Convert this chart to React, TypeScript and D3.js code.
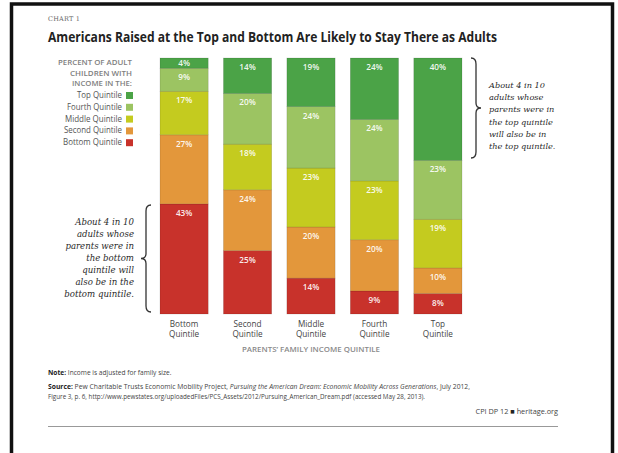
import React from "react";
import * as d3 from "d3";

const categories = ["Bottom Quintile", "Second Quintile", "Middle Quintile", "Fourth Quintile", "Top Quintile"];
const seriesNames = ["Bottom Quintile", "Second Quintile", "Middle Quintile", "Fourth Quintile", "Top Quintile"];
const bottomValues = [43, 25, 14, 9, 8];
const secondValues = [27, 24, 20, 20, 10];
const middleValues = [17, 18, 23, 23, 19];
const fourthValues = [9, 20, 24, 24, 23];
const topValues = [4, 14, 19, 24, 40];
const colors = ["#c8322b", "#e3973b", "#c4cb1f", "#9cc462", "#4ba347"];
const legendOrder = ["Top Quintile", "Fourth Quintile", "Middle Quintile", "Second Quintile", "Bottom Quintile"];

const W = 618;
const H = 453;

export default function App() {
  const series = [bottomValues, secondValues, middleValues, fourthValues, topValues];
  const x = d3.scaleBand<string>().domain(categories).range([160, 462]).paddingInner(0.24).paddingOuter(0);
  const y = d3.scaleLinear().domain([0, 100]).range([314, 58]);
  const color = d3.scaleOrdinal<string, string>().domain(seriesNames).range(colors);

  const table = categories.map((c, i) => {
    const row: any = { cat: c };
    seriesNames.forEach((s, j) => (row[s] = series[j][i]));
    return row;
  });
  const totals = categories.map((_, i) => d3.sum(series, (s) => s[i]));
  const stacked = d3.stack<any>().keys(seriesNames)(table);

  const serif = "'DejaVu Serif', 'Liberation Serif', serif";
  const sans = "'Open Sans', Lato, sans-serif";

  const rightLines = ["About 4 in 10", "adults whose", "parents were in", "the top quintile", "will also be in", "the top quintile."];
  const leftLines = ["About 4 in 10", "adults whose", "parents were in", "the bottom", "quintile will", "also be in the", "bottom quintile."];
  const headerLines = ["PERCENT OF ADULT", "CHILDREN WITH", "INCOME IN THE:"];
  const headerWidths = [74, 62, 60];
  const legendWidths = [45, 55, 57, 58, 59];

  const brace = (x0: number, y0: number, y1: number, dir: number) => {
    const d = 5 * dir;
    const tip = 5 * dir;
    const ym = (y0 + y1) / 2;
    return `M${x0},${y0} Q${x0 + d},${y0} ${x0 + d},${y0 + 6} L${x0 + d},${ym - 5} Q${x0 + d},${ym} ${x0 + d + tip},${ym} Q${x0 + d},${ym} ${x0 + d},${ym + 5} L${x0 + d},${y1 - 6} Q${x0 + d},${y1} ${x0},${y1}`;
  };

  return (
    <svg width={W} height={H} style={{ position: "absolute", left: 0, top: 0, background: "#fff" }}>
      <rect x={0} y={0} width={W} height={H} fill="#fff" />
      <path d={`M11.5,${H} L11.5,4 L612.5,4 L612.5,${H}`} fill="none" stroke="#111" strokeWidth={3.5} />
      <text x={48} y={21} fontFamily={serif} fontSize={6.5} fill="#666" letterSpacing={0.2}>CHART 1</text>
      <text x={48} y={42} fontFamily={sans} fontSize={13.5} fontWeight={700} fill="#222" textLength={449} lengthAdjust="spacingAndGlyphs">
        Americans Raised at the Top and Bottom Are Likely to Stay There as Adults
      </text>

      {headerLines.map((t, i) => (
        <text key={t} x={132} y={65 + i * 10.5} textAnchor="end" fontFamily={sans} fontSize={7} fontWeight={600} fill="#808080" textLength={headerWidths[i]} lengthAdjust="spacingAndGlyphs">{t}</text>
      ))}
      {legendOrder.map((s, i) => (
        <g key={s}>
          <text x={122} y={98 + i * 11.8} textAnchor="end" fontFamily={sans} fontSize={8.4} fill="#555" textLength={legendWidths[i]} lengthAdjust="spacingAndGlyphs">{s}</text>
          <rect x={126} y={92 + i * 11.8} width={7} height={7} fill={color(s)} />
        </g>
      ))}

      {stacked.map((layer) => (
        <g key={layer.key}>
          {layer.map((d, i) => {
            const t = totals[i];
            const y0 = y((d[0] / t) * 100);
            const y1 = y((d[1] / t) * 100);
            const bx = x(categories[i])!;
            const v = series[seriesNames.indexOf(layer.key)][i];
            const ty = Math.min(y1 + 12, (y0 + y1) / 2 + 3);
            return (
              <g key={i}>
                <rect x={bx} y={y1} width={x.bandwidth()} height={y0 - y1} fill={color(layer.key)} stroke="rgba(0,0,0,0.16)" strokeWidth={0.7} />
                <text x={bx + x.bandwidth() / 2} y={ty} textAnchor="middle" fontFamily={sans} fontSize={8.2} fontWeight={600} fill="#fff" fillOpacity={0.93}>{v}%</text>
              </g>
            );
          })}
        </g>
      ))}

      {categories.map((c) => {
        const [a, b] = c.split(" ");
        const cx = x(c)! + x.bandwidth() / 2;
        return (
          <g key={c}>
            <text x={cx} y={326.5} textAnchor="middle" fontFamily={sans} fontSize={8.2} fill="#444">{a}</text>
            <text x={cx} y={336.5} textAnchor="middle" fontFamily={sans} fontSize={8.2} fill="#444">{b}</text>
          </g>
        );
      })}
      <text x={311} y={352} textAnchor="middle" fontFamily={sans} fontSize={7} fontWeight={600} fill="#8a8a8a" textLength={138} lengthAdjust="spacingAndGlyphs">PARENTS’ FAMILY INCOME QUINTILE</text>

      <path d={brace(471, 58, 158, 1)} fill="none" stroke="#333" strokeWidth={1.3} />
      {rightLines.map((t, i) => (
        <text key={i} x={489} y={88 + i * 12.2} fontFamily={serif} fontStyle="italic" fontSize={8.2} fill="#2a2a2a">{t}</text>
      ))}
      <path d={brace(151, 205, 312, -1)} fill="none" stroke="#333" strokeWidth={1.3} />
      {leftLines.map((t, i) => (
        <text key={i} x={134} y={225 + i * 12} textAnchor="end" fontFamily={serif} fontStyle="italic" fontSize={8.6} fill="#2a2a2a">{t}</text>
      ))}

      <text x={48} y={375} fontFamily={sans} fontSize={6.6} fill="#444">
        <tspan fontWeight={700} fill="#222">Note:</tspan> Income is adjusted for family size.
      </text>
      <text x={48} y={389} fontFamily={sans} fontSize={6.6} fill="#444" textLength={422} lengthAdjust="spacingAndGlyphs">
        <tspan fontWeight={700} fill="#222">Source:</tspan> Pew Charitable Trusts Economic Mobility Project, <tspan fontStyle="italic">Pursuing the American Dream: Economic Mobility Across Generations</tspan>, July 2012,
      </text>
      <text x={48} y={399} fontFamily={sans} fontSize={6.6} fill="#444" textLength={377} lengthAdjust="spacingAndGlyphs">
        Figure 3, p. 6, http://www.pewstates.org/uploadedFiles/PCS_Assets/2012/Pursuing_American_Dream.pdf (accessed May 28, 2013).
      </text>
      <text x={558} y={414} textAnchor="end" fontFamily={sans} fontSize={7.3} fill="#444">CPI DP 12 <tspan fill="#222" fontWeight={700}>■</tspan> heritage.org</text>
      <line x1={48} x2={558} y1={426.5} y2={426.5} stroke="#999" strokeWidth={1} />
    </svg>
  );
}
